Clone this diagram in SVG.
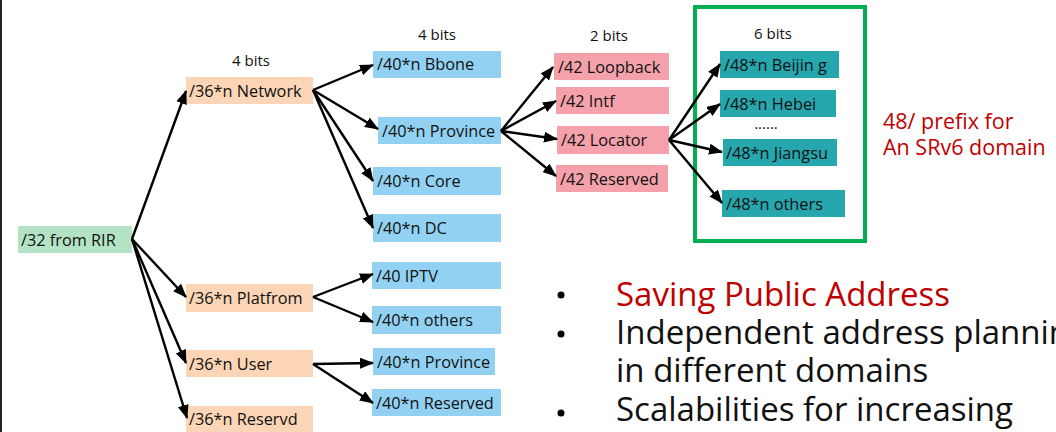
<svg xmlns="http://www.w3.org/2000/svg" width="1056" height="432" viewBox="0 0 1056 432">
<defs>
<marker id="ah" viewBox="0 0 14 11" refX="13" refY="5.5" markerWidth="14" markerHeight="11" markerUnits="userSpaceOnUse" orient="auto">
<path d="M0,0 L14,5.5 L0,11 z" fill="#000"/>
</marker>
<style>
text{font-family:"Open Sans","Noto Sans",sans-serif;fill:#111}
.n{font-size:16.3px}
.lbl{font-size:15px}
.g{fill:#B3E2C4}.o{fill:#FBD5B5}.b{fill:#93D1F2}.p{fill:#F4A1AC}.t{fill:#26A6AD}
.c line{stroke:#000;stroke-width:2.4;marker-end:url(#ah)}
.red{fill:#C00000}
.big{font-size:33px}
</style>
</defs>
<rect width="1056" height="432" fill="#fff"/>
<rect x="0" y="0" width="2" height="432" fill="#222"/>
<rect x="695" y="7" width="170" height="234" fill="none" stroke="#00B050" stroke-width="4"/>
<text class="lbl" x="251" y="66" text-anchor="middle">4 bits</text>
<text class="lbl" x="437" y="40" text-anchor="middle">4 bits</text>
<text class="lbl" x="609" y="41" text-anchor="middle">2 bits</text>
<text class="lbl" x="773" y="39" text-anchor="middle">6 bits</text>
<text class="lbl" x="766" y="129" text-anchor="middle">......</text>
<g id="rir"><rect class="g" x="18" y="226" width="114" height="27"/><text class="n" x="21" y="246">/32 from RIR</text></g>
<g id="network"><rect class="o" x="186" y="77" width="127" height="27"/><text class="n" x="189" y="97">/36*n Network</text></g>
<g id="platfrom"><rect class="o" x="186" y="284" width="127" height="28"/><text class="n" x="189" y="304">/36*n Platfrom</text></g>
<g id="user"><rect class="o" x="186" y="350" width="127" height="27"/><text class="n" x="189" y="370">/36*n User</text></g>
<g id="reservd"><rect class="o" x="186" y="406" width="127" height="26"/><text class="n" x="189" y="425">/36*n Reservd</text></g>
<g id="bbone"><rect class="b" x="373" y="51" width="128" height="27"/><text class="n" x="377" y="70">/40*n Bbone</text></g>
<g id="province"><rect class="b" x="378" y="117" width="123" height="27"/><text class="n" x="382" y="137">/40*n Province</text></g>
<g id="core"><rect class="b" x="373" y="167" width="128" height="28"/><text class="n" x="377" y="187">/40*n Core</text></g>
<g id="dc"><rect class="b" x="373" y="214" width="128" height="28"/><text class="n" x="377" y="234">/40*n DC</text></g>
<g id="iptv"><rect class="b" x="372" y="262" width="129" height="27"/><text class="n" x="376" y="282">/40 IPTV</text></g>
<g id="others40"><rect class="b" x="372" y="306" width="129" height="28"/><text class="n" x="376" y="326">/40*n others</text></g>
<g id="province2"><rect class="b" x="373" y="348" width="122" height="27"/><text class="n" x="377" y="368">/40*n Province</text></g>
<g id="reserved40"><rect class="b" x="372" y="389" width="129" height="27"/><text class="n" x="376" y="409">/40*n Reserved</text></g>
<g id="loopback"><rect class="p" x="554" y="53" width="115" height="27"/><text class="n" x="558" y="73">/42 Loopback</text></g>
<g id="intf"><rect class="p" x="556" y="87" width="113" height="27"/><text class="n" x="560" y="107">/42 Intf</text></g>
<g id="locator"><rect class="p" x="557" y="126" width="112" height="28"/><text class="n" x="561" y="146">/42 Locator</text></g>
<g id="reserved42"><rect class="p" x="556" y="165" width="112" height="27"/><text class="n" x="560" y="185">/42 Reserved</text></g>
<g id="beijing"><rect class="t" x="720" y="51" width="119" height="27"/><text class="n" x="724" y="71">/48*n Beijin g</text></g>
<g id="hebei"><rect class="t" x="720" y="90" width="116" height="27"/><text class="n" x="724" y="110">/48*n Hebei</text></g>
<g id="jiangsu"><rect class="t" x="723" y="139" width="114" height="27"/><text class="n" x="726" y="159">/48*n Jiangsu</text></g>
<g id="others48"><rect class="t" x="722" y="190" width="123" height="27"/><text class="n" x="726" y="210">/48*n others</text></g>
<g id="connectors" class="c">
<line x1="132" y1="239" x2="186" y2="91"/>
<line x1="132" y1="239" x2="186" y2="297"/>
<line x1="132" y1="239" x2="186" y2="363"/>
<line x1="132" y1="239" x2="187" y2="418"/>
<line x1="313" y1="90" x2="373" y2="65"/>
<line x1="313" y1="90" x2="378" y2="129"/>
<line x1="313" y1="90" x2="373" y2="181"/>
<line x1="313" y1="90" x2="373" y2="228"/>
<line x1="501" y1="131" x2="553" y2="67"/>
<line x1="501" y1="131" x2="556" y2="101"/>
<line x1="501" y1="131" x2="557" y2="139"/>
<line x1="501" y1="131" x2="556" y2="176"/>
<line x1="669" y1="140" x2="720" y2="64"/>
<line x1="669" y1="140" x2="720" y2="104"/>
<line x1="669" y1="140" x2="722" y2="152"/>
<line x1="669" y1="140" x2="722" y2="203"/>
<line x1="313" y1="297" x2="373" y2="274"/>
<line x1="313" y1="297" x2="373" y2="322"/>
<line x1="313" y1="364" x2="373" y2="363"/>
<line x1="313" y1="364" x2="373" y2="403"/>
</g>
<text class="red" x="883" y="129" font-size="21.5">48/ prefix for</text>
<text class="red" x="883" y="155" font-size="21.5">An SRv6 domain</text>
<g id="bullets">
<circle cx="561" cy="295" r="3.5" fill="#000"/>
<circle cx="561" cy="334" r="3.5" fill="#000"/>
<circle cx="561" cy="413" r="3.5" fill="#000"/>
<text class="big red" x="616" y="306">Saving Public Address</text>
<text class="big" x="616" y="344">Independent address planning</text>
<text class="big" x="616" y="382">in different domains</text>
<text class="big" x="616" y="421">Scalabilities for increasing</text>
</g>
</svg>
